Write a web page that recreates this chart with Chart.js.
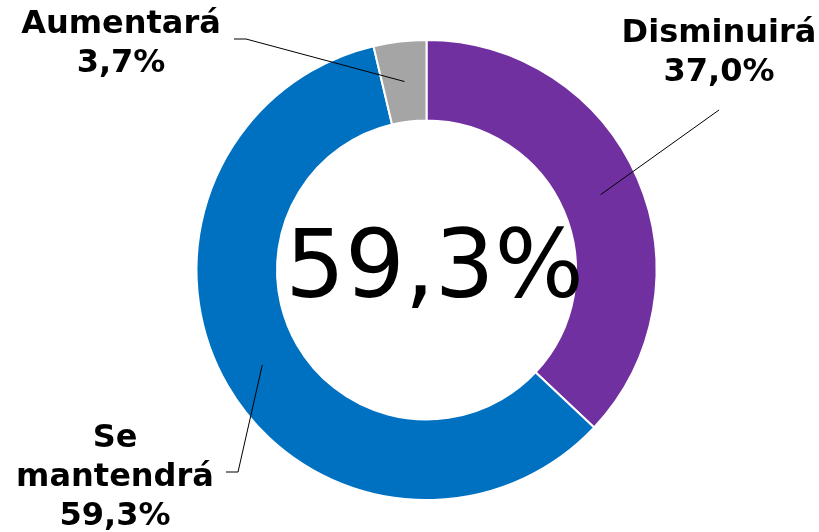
<!DOCTYPE html>
<html>
<head>
<meta charset="utf-8">
<script src="https://cdn.jsdelivr.net/npm/chart.js@4.4.1/dist/chart.umd.min.js"></script>
<style>
  html, body { margin: 0; padding: 0; background: #fff; }
  #wrap { width: 819px; height: 532px; }
</style>
</head>
<body>
<div id="wrap"><canvas id="myChart" width="819" height="532"></canvas></div>
<script>
const categories = ["Disminuirá", "Se mantendrá", "Aumentará"];
const values = [37.0, 59.3, 3.7];
const colors = ["#7030A0", "#0070C0", "#A5A5A5"];
const centerText = "59,3%";

// where each slice's label goes, and its leader line start / elbow
const labelPos = [
  { x: 719, y: 42, lines: ["Disminuirá", "37,0%"], from: [719, 110], elbow: null },
  { x: 115, y: 447, lines: ["Se", "mantendrá", "59,3%"], from: [226, 472], elbow: [238, 472] },
  { x: 121, y: 33, lines: ["Aumentará", "3,7%"], from: [234, 39], elbow: [246, 39] },
];

function fmt(v) {
  return v.toFixed(1).replace(".", ",") + "%";
}

const labelPlugin = {
  id: "labels",
  afterDatasetsDraw(chart) {
    const c = chart.ctx;
    const arcs = chart.getDatasetMeta(0).data;
    c.save();
    arcs.forEach((arc, i) => {
      const p = labelPos[i];
      const mid = (arc.startAngle + arc.endAngle) / 2;
      const r = (arc.innerRadius + arc.outerRadius) / 2;
      const ax = arc.x + Math.cos(mid) * r;
      const ay = arc.y + Math.sin(mid) * r;
      c.strokeStyle = "#000";
      c.lineWidth = 1;
      c.beginPath();
      c.moveTo(p.from[0], p.from[1]);
      if (p.elbow) c.lineTo(p.elbow[0], p.elbow[1]);
      c.lineTo(ax, ay);
      c.stroke();

      c.fillStyle = "#000";
      c.font = "bold 32px 'DejaVu Sans'";
      c.textAlign = "center";
      c.textBaseline = "alphabetic";
      const lines = p.lines.slice(0, -1).concat([fmt(values[i])]);
      lines.forEach((t, k) => c.fillText(t, p.x, p.y + k * 39));
    });

    // centre value
    const a = arcs[0];
    c.font = "94px 'DejaVu Sans'";
    c.textAlign = "center";
    c.fillText(centerText, a.x + 8, a.y + 27);
    c.restore();
  }
};

new Chart(document.getElementById("myChart").getContext("2d"), {
  type: "doughnut",
  data: {
    labels: categories,
    datasets: [{
      data: values,
      backgroundColor: colors,
      borderColor: "#fff",
      borderWidth: 2,
    }],
  },
  options: {
    responsive: false,
    animation: false,
    cutout: "65%",
    layout: { padding: { top: 39, bottom: 31, left: 190, right: 156 } },
    plugins: { legend: { display: false }, tooltip: { enabled: false } },
  },
  plugins: [labelPlugin],
});
</script>
</body>
</html>
